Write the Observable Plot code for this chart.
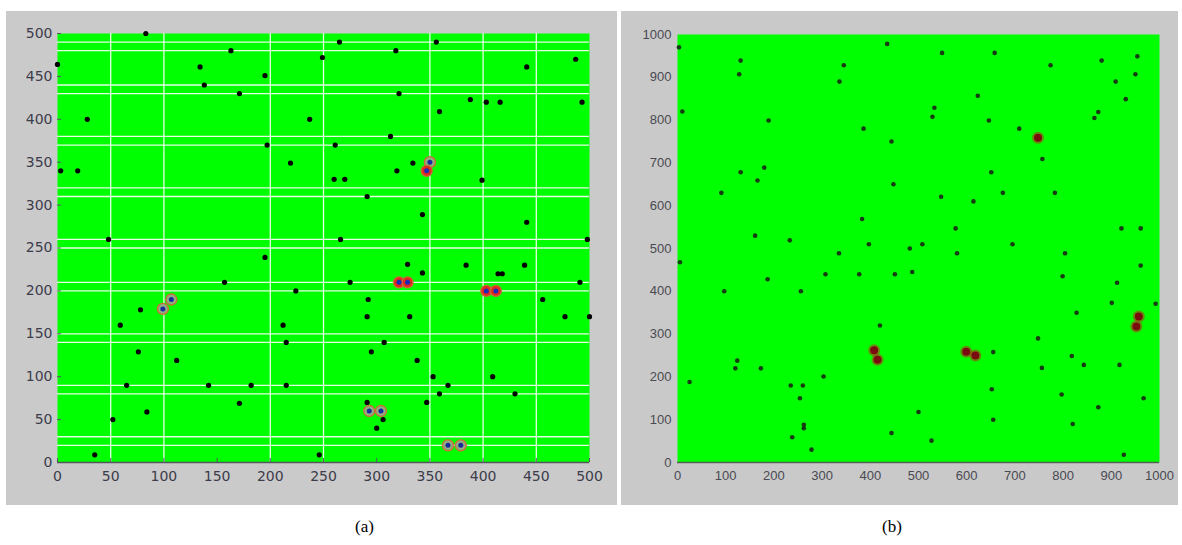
<!DOCTYPE html>
<html><head><meta charset="utf-8">
<script src="https://cdn.jsdelivr.net/npm/d3@7"></script>
<script src="https://cdn.jsdelivr.net/npm/@observablehq/plot@0.6"></script>
<style>
html,body{margin:0;padding:0;background:#fff;width:1182px;height:545px;overflow:hidden;}
#root{position:relative;width:1182px;height:545px;}
.panel{position:absolute;}
.cap{position:absolute;font-family:"Liberation Serif","Times New Roman",serif;font-size:17px;color:#000;line-height:20px;}
</style></head><body><div id="root">
<div id="pa" class="panel" style="left:6px;top:11px;"></div>
<div id="pb" class="panel" style="left:621px;top:11px;"></div>
<div class="cap" style="left:355px;top:517px;">(a)</div>
<div class="cap" style="left:882px;top:517px;">(b)</div>
</div>
<script>
// ---------- Panel (a) data ----------
const aTicks = [0, 50, 100, 150, 200, 250, 300, 350, 400, 450, 500];
const aGridX = [50, 100, 200, 250, 350, 400, 450];
const aGridY = [20, 30, 80, 90, 140, 150, 200, 210, 250, 260, 310, 320, 370, 380, 430, 440, 480, 490];
const aNodeX = [0, 83, 134, 138, 163, 171, 195, 197, 237, 219, 28, 3, 19, 48, 195, 249,
  265, 318, 356, 321, 359, 388, 403, 416, 441, 487, 493, 313, 261, 334, 319, 260, 270, 399, 291, 343, 441, 266, 498,
  157, 224, 59, 78, 76, 112, 212, 215, 65, 142, 182, 215, 171, 84, 52, 35, 246,
  329, 384, 439, 343, 414, 418, 275, 491, 292, 456, 291, 331, 477, 500, 307, 295, 338, 353, 409, 367, 359, 430, 347, 291, 306, 300];
const aNodeY = [464, 500, 461, 440, 480, 430, 451, 370, 400, 349, 400, 340, 340, 260, 239, 472,
  490, 480, 490, 430, 409, 423, 420, 420, 461, 470, 420, 380, 370, 349, 340, 330, 330, 329, 310, 289, 280, 260, 260,
  210, 200, 160, 178, 129, 119, 160, 140, 90, 90, 90, 90, 69, 59, 50, 9, 9,
  231, 230, 230, 221, 220, 220, 210, 210, 190, 190, 170, 170, 170, 170, 140, 129, 119, 100, 100, 90, 80, 80, 70, 70, 50, 40];
const aRedHeadX = [347, 321, 329, 403, 412];
const aRedHeadY = [340, 210, 210, 200, 200];
const aPaleHeadX = [350, 99, 107, 293, 304, 367, 379];
const aPaleHeadY = [350, 179, 190, 60, 60, 20, 20];

// ---------- Panel (b) data ----------
const bTicks = [0, 100, 200, 300, 400, 500, 600, 700, 800, 900, 1000];
const bNodeX = [3, 131, 128, 10, 189, 180, 131, 166, 91, 161, 233,
  435, 549, 658, 345, 336, 623, 533, 529, 646, 709, 386, 444, 448, 651, 675, 547, 614, 383, 577, 397, 508, 695, 482, 335, 580, 307, 377, 451, 487, 420, 655, 303, 652, 500, 655, 444, 527,
  5, 187, 97, 256, 124, 120, 173, 25, 235, 260, 254, 262, 262, 238, 278,
  774, 880, 954, 950, 909, 930, 873, 865, 757, 783, 921, 961, 804,
  961, 799, 912, 901, 992, 828, 748, 818, 756, 843, 917, 797, 967, 873, 820, 926];
const bNodeY = [970, 939, 907, 820, 799, 689, 678, 659, 630, 530, 519,
  978, 957, 957, 928, 890, 857, 829, 808, 799, 780, 780, 750, 650, 678, 630, 621, 610, 569, 547, 510, 510, 510, 500, 489, 489, 440, 440, 440, 445, 320, 258, 201, 171, 118, 100, 69, 51,
  468, 428, 400, 400, 238, 220, 220, 188, 180, 180, 150, 88, 80, 59, 30,
  928, 939, 949, 907, 890, 849, 819, 805, 709, 630, 547, 547, 489,
  460, 435, 420, 373, 371, 350, 290, 249, 221, 228, 228, 159, 150, 129, 90, 18];
const bHeadX = [748, 408, 415, 599, 618, 957, 952];
const bHeadY = [759, 262, 240, 259, 250, 341, 318];

// ---------- Panel (a) ----------
const aInnerW = 532, aInnerH = 429;
const plotA = Plot.plot({
  width: 611, height: 494,
  marginLeft: 51, marginRight: 28, marginTop: 22, marginBottom: 43,
  x: {domain: [0, 500], label: null},
  y: {domain: [0, 500], label: null},
  style: {background: "#cacaca", fontFamily: "DejaVu Sans, sans-serif", fontSize: "14px", color: "#3c3c4a", overflow: "visible"},
  marks: [
    Plot.frame({fill: "#00ff00", stroke: null}),
    Plot.ruleX(aGridX, {stroke: "#ffffff", strokeWidth: 1.3, strokeOpacity: 0.9}),
    Plot.ruleY(aGridY, {stroke: "#ffffff", strokeWidth: 1.3, strokeOpacity: 0.9}),
    Plot.ruleY([0], {stroke: "#555560", strokeWidth: 1.5}),
    Plot.tickX(aTicks, {x: d => d, stroke: "#555560", insetTop: aInnerH - 4}),
    Plot.tickY(aTicks, {y: d => d, stroke: "#555560", insetRight: aInnerW - 4}),
    Plot.axisX({ticks: aTicks, tickSize: 0, tickPadding: 9, tickFormat: d => String(d)}),
    Plot.axisY({ticks: aTicks, tickSize: 0, tickPadding: 5, tickFormat: d => String(d)}),
    Plot.dot(aNodeX, {x: aNodeX, y: aNodeY, r: 2.6, fill: "#000000", stroke: null}),
    Plot.dot(aPaleHeadX, {x: aPaleHeadX, y: aPaleHeadY, r: 5.5, fill: "#8fae80", stroke: "#d0683a", strokeWidth: 1.3}),
    Plot.dot(aRedHeadX, {x: aRedHeadX, y: aRedHeadY, r: 5.5, fill: "#e0281c", stroke: "#c86a3a", strokeWidth: 1.3}),
    Plot.dot(aPaleHeadX, {x: aPaleHeadX, y: aPaleHeadY, r: 2.5, fill: "#1a2a9a", stroke: null}),
    Plot.dot(aRedHeadX, {x: aRedHeadX, y: aRedHeadY, r: 2.5, fill: "#1a2ab8", stroke: null})
  ]
});
document.getElementById("pa").appendChild(plotA);

// ---------- Panel (b) ----------
const plotB = Plot.plot({
  width: 557, height: 494,
  marginLeft: 56, marginRight: 19, marginTop: 23, marginBottom: 43,
  x: {domain: [0, 1000], label: null},
  y: {domain: [0, 1000], label: null},
  style: {background: "#c9c9c9", fontFamily: "Liberation Sans, Arial, sans-serif", fontSize: "13px", color: "#4a4a52", overflow: "visible"},
  marks: [
    Plot.frame({fill: "#00ff00", stroke: null}),
    Plot.ruleY([0], {stroke: "#556055", strokeWidth: 1.5}),
    Plot.axisX({ticks: bTicks, tickSize: 0, tickPadding: 8, tickFormat: d => String(d)}),
    Plot.axisY({ticks: bTicks, tickSize: 0, tickPadding: 6, tickFormat: d => String(d)}),
    Plot.dot(bNodeX, {x: bNodeX, y: bNodeY, r: 2.3, fill: "#163c12", stroke: null}),
    Plot.dot(bHeadX, {x: bHeadX, y: bHeadY, r: 6, fill: "#b8321a", fillOpacity: 0.55, stroke: null}),
    Plot.dot(bHeadX, {x: bHeadX, y: bHeadY, r: 4, fill: "#7a0c10", stroke: null})
  ]
});
document.getElementById("pb").appendChild(plotB);
</script>
</body></html>
